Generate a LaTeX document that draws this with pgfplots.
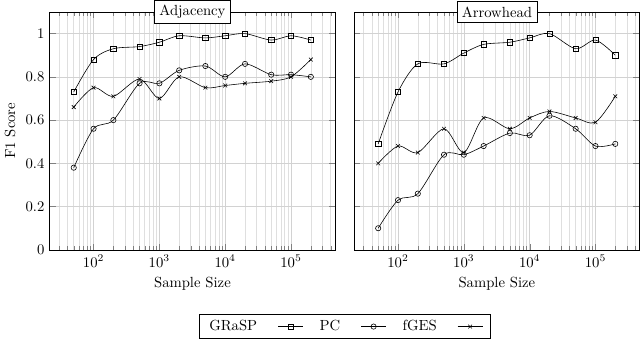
\documentclass[border=0pt]{standalone}
\usepackage{pgfplots}
\pgfplotsset{compat=1.18}
\usepgfplotslibrary{groupplots}

% n, GRaSP, PC, fGES
\pgfplotstableread{
n      grasp pc   fges
50     0.73  0.38 0.66
100    0.88  0.56 0.75
200    0.93  0.60 0.71
500    0.94  0.77 0.79
1000   0.96  0.77 0.70
2000   0.99  0.83 0.80
5000   0.98  0.85 0.75
10000  0.99  0.80 0.76
20000  1.00  0.86 0.77
50000  0.97  0.81 0.78
100000 0.99  0.81 0.80
200000 0.97  0.80 0.88
}\adjtab

\pgfplotstableread{
n      grasp pc   fges
50     0.49  0.10 0.40
100    0.73  0.23 0.48
200    0.86  0.26 0.45
500    0.86  0.44 0.56
1000   0.91  0.44 0.45
2000   0.95  0.48 0.61
5000   0.96  0.54 0.56
10000  0.98  0.53 0.61
20000  1.00  0.62 0.64
50000  0.93  0.56 0.61
100000 0.97  0.48 0.59
200000 0.90  0.49 0.71
}\arrtab

\begin{document}
\begin{tikzpicture}
\begin{groupplot}[
  group style={group size=2 by 1, horizontal sep=12.8pt, yticklabels at=edge left},
  scale only axis, width=194.5pt, height=162pt,
  xmode=log, xmin=21.5, xmax=4.7e5, ymin=0, ymax=1.1,
  ytick={0,0.2,0.4,0.6,0.8,1},
  grid=both, major grid style={gray!35}, minor grid style={gray!25},
  xlabel={Sample Size},
  every axis title shift=0pt,
  every axis title/.style={at={(0.5,1)}, anchor=center, draw, fill=white},
  every axis plot/.append style={black, smooth, mark size=1.8pt},
  legend plot pos=right,
  legend style={legend columns=-1, at={(1.033,-0.27)}, anchor=north,
    /tikz/every odd column/.append style={column sep=12pt},
    /tikz/every even column/.append style={column sep=9pt},
    inner xsep=5pt}]
\nextgroupplot[title={Adjacency}, ylabel={F1 Score}]
\addplot[mark=square] table[x=n, y=grasp] {\adjtab};
\addplot[mark=o] table[x=n, y=pc] {\adjtab};
\addplot[mark=x] table[x=n, y=fges] {\adjtab};
\legend{GRaSP, PC, fGES}
\nextgroupplot[title={Arrowhead}]
\addplot[mark=square] table[x=n, y=grasp] {\arrtab};
\addplot[mark=o] table[x=n, y=pc] {\arrtab};
\addplot[mark=x] table[x=n, y=fges] {\arrtab};
\end{groupplot}
\path (current bounding box.south) -- ++(0,-7.5pt);
\end{tikzpicture}
\end{document}
